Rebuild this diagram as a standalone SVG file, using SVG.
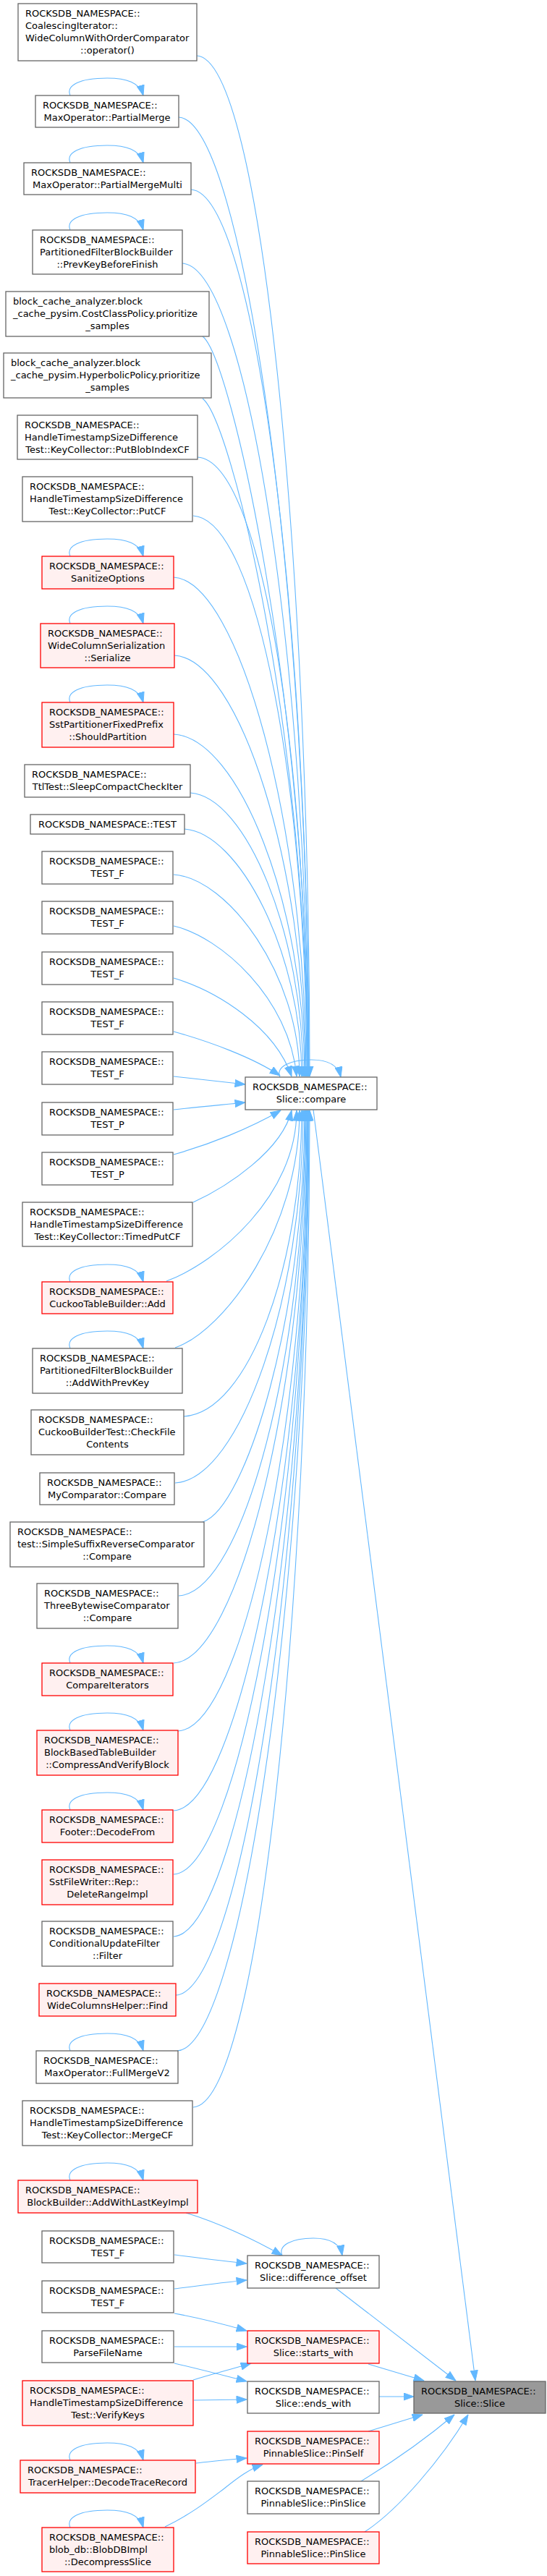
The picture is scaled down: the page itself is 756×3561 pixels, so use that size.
<svg xmlns="http://www.w3.org/2000/svg" width="756" height="3561" viewBox="0 0 756 3561">
<defs>
<marker id="ah" markerWidth="15" markerHeight="11" refX="14.5" refY="5.5" orient="auto" markerUnits="userSpaceOnUse"><path d="M0.5,0.5 L14.5,5.5 L0.5,10.5 z" fill="#63B8FF" stroke="#63B8FF"/></marker>
</defs>
<style>
.n rect{fill:#ffffff;stroke:#666666;stroke-width:1.3}
.r rect{fill:#FFF0F0;stroke:#FF0000;stroke-width:1.3}
.root rect{fill:#999999;stroke:#666666;stroke-width:1.3}
text{font-family:"DejaVu Sans","Liberation Sans",sans-serif;font-size:13px;fill:#000000}
.c{text-anchor:middle}
#edges path{fill:none;stroke:#63B8FF;stroke-width:1.1;marker-end:url(#ah)}
</style>
<rect width="756" height="3561" fill="#ffffff"/>
<g id="edges">
<path d="M272,77 C362,82 428,783 428,1488"/>
<path d="M247,162 C337,167 427,825 427,1488"/>
<path d="M264,262 C354,267 427,875 427,1488"/>
<path d="M252,364 C342,369 426,926 426,1488"/>
<path d="M280,465 C320,495 426,976 426,1488"/>
<path d="M280,551 C320,581 425,1019 425,1488"/>
<path d="M273,632 C363,637 425,1060 425,1488"/>
<path d="M267,713 C357,718 424,1100 424,1488"/>
<path d="M240,798 C330,803 423,1143 423,1488"/>
<path d="M241,906 C331,911 422,1197 422,1488"/>
<path d="M240,1015 C330,1020 421,1251 421,1488"/>
<path d="M263,1096 C340,1101 419,1292 419,1488"/>
<path d="M255,1146 C330,1151 417,1317 417,1488"/>
<path d="M240,1209 C315,1214 414,1348 414,1488"/>
<path d="M240,1280 C305,1295 400,1380 410,1488"/>
<path d="M240,1352 C300,1370 380,1420 403,1488"/>
<path d="M240,1426 C290,1440 350,1462 387,1487"/>
<path d="M240,1488 C275,1492 310,1496 339,1499"/>
<path d="M240,1534 C275,1530 310,1527 339,1524"/>
<path d="M240,1596 C290,1582 345,1560 388,1535"/>
<path d="M267,1662 C315,1640 390,1590 403,1535"/>
<path d="M230,1771 C300,1745 410,1653 410,1535"/>
<path d="M242,1863 C310,1840 414,1699 414,1535"/>
<path d="M254,1958 C344,1953 417,1747 417,1535"/>
<path d="M242,2050 C332,2045 419,1793 419,1535"/>
<path d="M280,2104 C340,2085 421,1820 421,1535"/>
<path d="M247,2206 C337,2201 422,1871 422,1535"/>
<path d="M240,2299 C330,2294 423,1917 423,1535"/>
<path d="M246,2393 C336,2388 424,1964 424,1535"/>
<path d="M240,2503 C330,2498 425,2019 425,1535"/>
<path d="M240,2591 C330,2586 425,2063 425,1535"/>
<path d="M240,2677 C330,2672 426,2106 426,1535"/>
<path d="M243,2758 C333,2753 426,2147 426,1535"/>
<path d="M245,2835 C335,2830 427,2185 427,1535"/>
<path d="M267,2913 C357,2908 428,2224 428,1535"/>
<path d="M433,1534 L657,3291"/>
<path d="M387,1489 C381,1475 400,1465 430,1465 C452,1465 467,1471 471,1489"/>
<path d="M390,3118 C384,3104 403,3094 433,3094 C455,3094 470,3100 473,3118"/>
<path d="M97,132 C91,118 110,108 148,108 C175,108 193,114 198,132"/>
<path d="M97,225 C91,211 110,201 148,201 C175,201 193,207 198,225"/>
<path d="M97,318 C91,304 110,294 148,294 C175,294 193,300 198,318"/>
<path d="M97,769 C91,755 110,745 148,745 C175,745 193,751 198,769"/>
<path d="M97,862 C91,848 110,838 148,838 C175,838 193,844 198,862"/>
<path d="M97,971 C91,957 110,947 148,947 C175,947 193,953 198,971"/>
<path d="M97,1772 C91,1758 110,1748 148,1748 C175,1748 193,1754 198,1772"/>
<path d="M97,1864 C91,1850 110,1840 148,1840 C175,1840 193,1846 198,1864"/>
<path d="M97,2299 C91,2285 110,2275 148,2275 C175,2275 193,2281 198,2299"/>
<path d="M97,2392 C91,2378 110,2368 148,2368 C175,2368 193,2374 198,2392"/>
<path d="M97,2502 C91,2488 110,2478 148,2478 C175,2478 193,2484 198,2502"/>
<path d="M97,2835 C91,2821 110,2811 148,2811 C175,2811 193,2817 198,2835"/>
<path d="M97,3014 C91,3000 110,2990 148,2990 C175,2990 193,2996 198,3014"/>
<path d="M97,3401 C91,3387 110,3377 148,3377 C175,3377 193,3383 198,3401"/>
<path d="M97,3494 C91,3480 110,3470 148,3470 C175,3470 193,3476 198,3494"/>
<path d="M257,3059 C300,3072 350,3095 390,3118"/>
<path d="M241,3117 C280,3122 310,3126 341,3129"/>
<path d="M241,3164 C280,3159 310,3155 341,3152"/>
<path d="M241,3198 C280,3205 310,3213 341,3222"/>
<path d="M241,3244 L341,3244"/>
<path d="M241,3267 C280,3276 310,3284 341,3292"/>
<path d="M267,3290 C290,3283 320,3275 347,3267"/>
<path d="M268,3318 L341,3317"/>
<path d="M271,3405 C295,3402 320,3400 341,3398"/>
<path d="M228,3493 C265,3475 290,3455 310,3440 C330,3424 345,3413 363,3407"/>
<path d="M464,3163 L630,3291"/>
<path d="M509,3268 L586,3291"/>
<path d="M524,3313 L572,3313"/>
<path d="M509,3361 L584,3338"/>
<path d="M499,3430 C540,3405 590,3370 628,3338"/>
<path d="M504,3500 C550,3470 610,3400 647,3338"/>
</g>
<g id="n1" class="n"><rect x="25" y="5" width="247" height="79"/><text x="35" y="23.4">ROCKSDB_NAMESPACE::</text><text x="35" y="40.1">CoalescingIterator::</text><text x="35" y="56.8">WideColumnWithOrderComparator</text><text class="c" x="148.5" y="73.5">::operator()</text></g>
<g id="n2" class="n"><rect x="49" y="132" width="198" height="44"/><text x="59" y="150.4">ROCKSDB_NAMESPACE::</text><text class="c" x="148" y="167.1">MaxOperator::PartialMerge</text></g>
<g id="n3" class="n"><rect x="33" y="225" width="231" height="44"/><text x="43" y="243.4">ROCKSDB_NAMESPACE::</text><text class="c" x="148.5" y="260.1">MaxOperator::PartialMergeMulti</text></g>
<g id="n4" class="n"><rect x="45" y="318" width="207" height="61"/><text x="55" y="336.4">ROCKSDB_NAMESPACE::</text><text x="55" y="353.1">PartitionedFilterBlockBuilder</text><text class="c" x="148.5" y="369.8">::PrevKeyBeforeFinish</text></g>
<g id="n5" class="n"><rect x="8" y="403" width="281" height="62"/><text x="18" y="421.4">block_cache_analyzer.block</text><text x="18" y="438.1">_cache_pysim.CostClassPolicy.prioritize</text><text class="c" x="148.5" y="454.8">_samples</text></g>
<g id="n6" class="n"><rect x="5" y="488" width="287" height="62"/><text x="15" y="506.4">block_cache_analyzer.block</text><text x="15" y="523.1">_cache_pysim.HyperbolicPolicy.prioritize</text><text class="c" x="148.5" y="539.8">_samples</text></g>
<g id="n7" class="n"><rect x="24" y="574" width="249" height="61"/><text x="34" y="592.4">ROCKSDB_NAMESPACE::</text><text x="34" y="609.1">HandleTimestampSizeDifference</text><text class="c" x="148.5" y="625.8">Test::KeyCollector::PutBlobIndexCF</text></g>
<g id="n8" class="n"><rect x="31" y="659" width="235" height="62"/><text x="41" y="677.4">ROCKSDB_NAMESPACE::</text><text x="41" y="694.1">HandleTimestampSizeDifference</text><text class="c" x="148.5" y="710.8">Test::KeyCollector::PutCF</text></g>
<g id="n9" class="r"><rect x="58" y="769" width="182" height="45"/><text x="68" y="787.4">ROCKSDB_NAMESPACE::</text><text class="c" x="149" y="804.1">SanitizeOptions</text></g>
<g id="n10" class="r"><rect x="56" y="862" width="185" height="61"/><text x="66" y="880.4">ROCKSDB_NAMESPACE::</text><text x="66" y="897.1">WideColumnSerialization</text><text class="c" x="148.5" y="913.8">::Serialize</text></g>
<g id="n11" class="r"><rect x="58" y="971" width="182" height="62"/><text x="68" y="989.4">ROCKSDB_NAMESPACE::</text><text x="68" y="1006.1">SstPartitionerFixedPrefix</text><text class="c" x="149" y="1022.8">::ShouldPartition</text></g>
<g id="n12" class="n"><rect x="34" y="1057" width="229" height="45"/><text x="44" y="1075.4">ROCKSDB_NAMESPACE::</text><text class="c" x="148.5" y="1092.1">TtlTest::SleepCompactCheckIter</text></g>
<g id="n13" class="n"><rect x="42" y="1126" width="213" height="27"/><text class="c" x="148.5" y="1144">ROCKSDB_NAMESPACE::TEST</text></g>
<g id="n14" class="n"><rect x="58" y="1177" width="181" height="45"/><text x="68" y="1195.4">ROCKSDB_NAMESPACE::</text><text class="c" x="148.5" y="1212.1">TEST_F</text></g>
<g id="n15" class="n"><rect x="58" y="1246" width="181" height="45"/><text x="68" y="1264.4">ROCKSDB_NAMESPACE::</text><text class="c" x="148.5" y="1281.1">TEST_F</text></g>
<g id="n16" class="n"><rect x="58" y="1316" width="181" height="45"/><text x="68" y="1334.4">ROCKSDB_NAMESPACE::</text><text class="c" x="148.5" y="1351.1">TEST_F</text></g>
<g id="n17" class="n"><rect x="58" y="1385" width="181" height="45"/><text x="68" y="1403.4">ROCKSDB_NAMESPACE::</text><text class="c" x="148.5" y="1420.1">TEST_F</text></g>
<g id="n18" class="n"><rect x="58" y="1454" width="181" height="45"/><text x="68" y="1472.4">ROCKSDB_NAMESPACE::</text><text class="c" x="148.5" y="1489.1">TEST_F</text></g>
<g id="n19" class="n"><rect x="58" y="1524" width="181" height="45"/><text x="68" y="1542.4">ROCKSDB_NAMESPACE::</text><text class="c" x="148.5" y="1559.1">TEST_P</text></g>
<g id="n20" class="n"><rect x="58" y="1593" width="181" height="45"/><text x="68" y="1611.4">ROCKSDB_NAMESPACE::</text><text class="c" x="148.5" y="1628.1">TEST_P</text></g>
<g id="n21" class="n"><rect x="31" y="1662" width="235" height="61"/><text x="41" y="1680.4">ROCKSDB_NAMESPACE::</text><text x="41" y="1697.1">HandleTimestampSizeDifference</text><text class="c" x="148.5" y="1713.8">Test::KeyCollector::TimedPutCF</text></g>
<g id="n22" class="r"><rect x="58" y="1772" width="181" height="44"/><text x="68" y="1790.4">ROCKSDB_NAMESPACE::</text><text class="c" x="148.5" y="1807.1">CuckooTableBuilder::Add</text></g>
<g id="n23" class="n"><rect x="45" y="1864" width="207" height="62"/><text x="55" y="1882.4">ROCKSDB_NAMESPACE::</text><text x="55" y="1899.1">PartitionedFilterBlockBuilder</text><text class="c" x="148.5" y="1915.8">::AddWithPrevKey</text></g>
<g id="n24" class="n"><rect x="43" y="1949" width="211" height="62"/><text x="53" y="1967.4">ROCKSDB_NAMESPACE::</text><text x="53" y="1984.1">CuckooBuilderTest::CheckFile</text><text class="c" x="148.5" y="2000.8">Contents</text></g>
<g id="n25" class="n"><rect x="55" y="2036" width="186" height="44"/><text x="65" y="2054.4">ROCKSDB_NAMESPACE::</text><text class="c" x="148" y="2071.1">MyComparator::Compare</text></g>
<g id="n26" class="n"><rect x="14" y="2104" width="268" height="62"/><text x="24" y="2122.4">ROCKSDB_NAMESPACE::</text><text x="24" y="2139.1">test::SimpleSuffixReverseComparator</text><text class="c" x="148" y="2155.8">::Compare</text></g>
<g id="n27" class="n"><rect x="51" y="2189" width="195" height="62"/><text x="61" y="2207.4">ROCKSDB_NAMESPACE::</text><text x="61" y="2224.1">ThreeBytewiseComparator</text><text class="c" x="148.5" y="2240.8">::Compare</text></g>
<g id="n28" class="r"><rect x="58" y="2299" width="181" height="45"/><text x="68" y="2317.4">ROCKSDB_NAMESPACE::</text><text class="c" x="148.5" y="2334.1">CompareIterators</text></g>
<g id="n29" class="r"><rect x="51" y="2392" width="195" height="62"/><text x="61" y="2410.4">ROCKSDB_NAMESPACE::</text><text x="61" y="2427.1">BlockBasedTableBuilder</text><text class="c" x="148.5" y="2443.8">::CompressAndVerifyBlock</text></g>
<g id="n30" class="r"><rect x="58" y="2502" width="181" height="45"/><text x="68" y="2520.4">ROCKSDB_NAMESPACE::</text><text class="c" x="148.5" y="2537.1">Footer::DecodeFrom</text></g>
<g id="n31" class="r"><rect x="58" y="2571" width="181" height="62"/><text x="68" y="2589.4">ROCKSDB_NAMESPACE::</text><text x="68" y="2606.1">SstFileWriter::Rep::</text><text class="c" x="148.5" y="2622.8">DeleteRangeImpl</text></g>
<g id="n32" class="n"><rect x="58" y="2656" width="181" height="62"/><text x="68" y="2674.4">ROCKSDB_NAMESPACE::</text><text x="68" y="2691.1">ConditionalUpdateFilter</text><text class="c" x="148.5" y="2707.8">::Filter</text></g>
<g id="n33" class="r"><rect x="54" y="2742" width="189" height="45"/><text x="64" y="2760.4">ROCKSDB_NAMESPACE::</text><text class="c" x="148.5" y="2777.1">WideColumnsHelper::Find</text></g>
<g id="n34" class="n"><rect x="50" y="2835" width="196" height="45"/><text x="60" y="2853.4">ROCKSDB_NAMESPACE::</text><text class="c" x="148" y="2870.1">MaxOperator::FullMergeV2</text></g>
<g id="n35" class="n"><rect x="31" y="2904" width="235" height="62"/><text x="41" y="2922.4">ROCKSDB_NAMESPACE::</text><text x="41" y="2939.1">HandleTimestampSizeDifference</text><text class="c" x="148.5" y="2955.8">Test::KeyCollector::MergeCF</text></g>
<g id="n36" class="r"><rect x="25" y="3014" width="248" height="45"/><text x="35" y="3032.4">ROCKSDB_NAMESPACE::</text><text class="c" x="149" y="3049.1">BlockBuilder::AddWithLastKeyImpl</text></g>
<g id="n37" class="n"><rect x="58" y="3084" width="182" height="44"/><text x="68" y="3102.4">ROCKSDB_NAMESPACE::</text><text class="c" x="149" y="3119.1">TEST_F</text></g>
<g id="n38" class="n"><rect x="58" y="3153" width="182" height="44"/><text x="68" y="3171.4">ROCKSDB_NAMESPACE::</text><text class="c" x="149" y="3188.1">TEST_F</text></g>
<g id="n39" class="n"><rect x="58" y="3222" width="182" height="44"/><text x="68" y="3240.4">ROCKSDB_NAMESPACE::</text><text class="c" x="149" y="3257.1">ParseFileName</text></g>
<g id="n40" class="r"><rect x="31" y="3291" width="236" height="62"/><text x="41" y="3309.4">ROCKSDB_NAMESPACE::</text><text x="41" y="3326.1">HandleTimestampSizeDifference</text><text class="c" x="149" y="3342.8">Test::VerifyKeys</text></g>
<g id="n41" class="r"><rect x="28" y="3401" width="242" height="45"/><text x="38" y="3419.4">ROCKSDB_NAMESPACE::</text><text class="c" x="149" y="3436.1">TracerHelper::DecodeTraceRecord</text></g>
<g id="n42" class="r"><rect x="58" y="3494" width="182" height="61"/><text x="68" y="3512.4">ROCKSDB_NAMESPACE::</text><text x="68" y="3529.1">blob_db::BlobDBImpl</text><text class="c" x="149" y="3545.8">::DecompressSlice</text></g>
<g id="compare" class="n"><rect x="339" y="1489" width="182" height="45"/><text x="349" y="1507.4">ROCKSDB_NAMESPACE::</text><text class="c" x="430" y="1524.1">Slice::compare</text></g>
<g id="difference_offset" class="n"><rect x="342" y="3118" width="182" height="45"/><text x="352" y="3136.4">ROCKSDB_NAMESPACE::</text><text class="c" x="433" y="3153.1">Slice::difference_offset</text></g>
<g id="starts_with" class="r"><rect x="342" y="3222" width="182" height="45"/><text x="352" y="3240.4">ROCKSDB_NAMESPACE::</text><text class="c" x="433" y="3257.1">Slice::starts_with</text></g>
<g id="ends_with" class="n"><rect x="342" y="3292" width="182" height="44"/><text x="352" y="3310.4">ROCKSDB_NAMESPACE::</text><text class="c" x="433" y="3327.1">Slice::ends_with</text></g>
<g id="pinself" class="r"><rect x="342" y="3361" width="182" height="45"/><text x="352" y="3379.4">ROCKSDB_NAMESPACE::</text><text class="c" x="433" y="3396.1">PinnableSlice::PinSelf</text></g>
<g id="pinslice1" class="n"><rect x="342" y="3430" width="182" height="45"/><text x="352" y="3448.4">ROCKSDB_NAMESPACE::</text><text class="c" x="433" y="3465.1">PinnableSlice::PinSlice</text></g>
<g id="pinslice2" class="r"><rect x="342" y="3500" width="182" height="44"/><text x="352" y="3518.4">ROCKSDB_NAMESPACE::</text><text class="c" x="433" y="3535.1">PinnableSlice::PinSlice</text></g>
<g id="slice" class="root"><rect x="572" y="3292" width="182" height="44"/><text x="582" y="3310.4">ROCKSDB_NAMESPACE::</text><text class="c" x="663" y="3327.1">Slice::Slice</text></g>
</svg>
